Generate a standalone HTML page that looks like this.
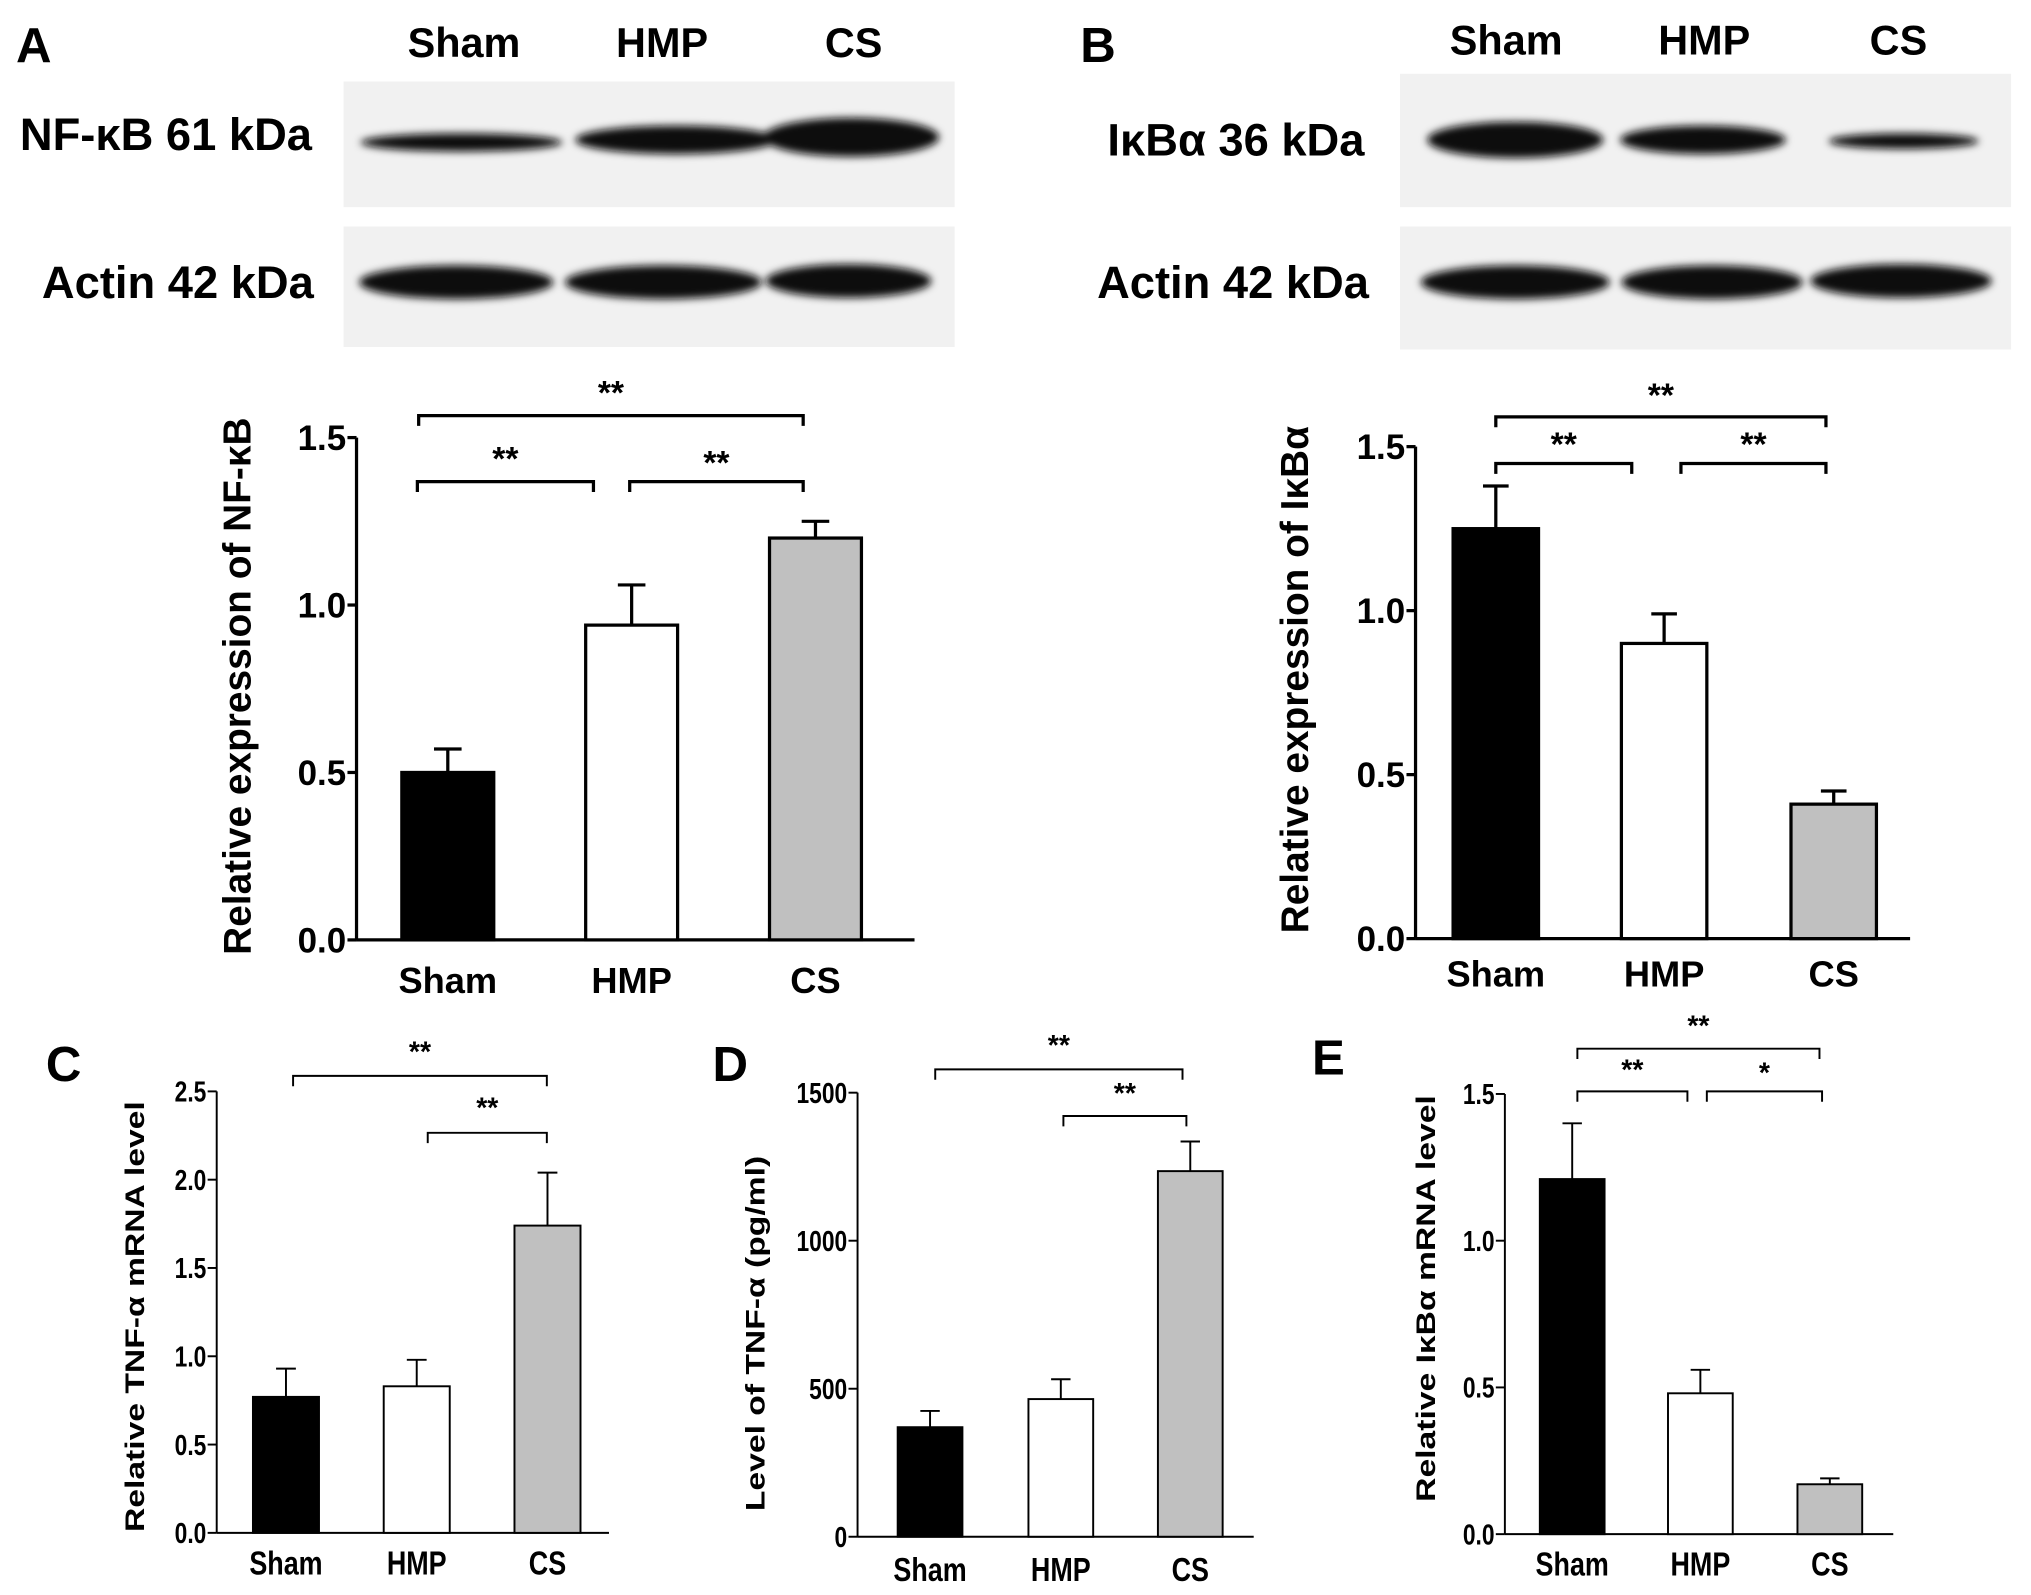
<!DOCTYPE html>
<html><head><meta charset="utf-8"><style>
html,body{margin:0;padding:0;background:#fff;}
svg{display:block;font-family:"Liberation Sans",Arial,sans-serif;}
text{font-weight:bold;fill:#000;}
</style></head><body>
<svg id="fig" width="2031" height="1595" viewBox="0 0 1568 1232" xmlns="http://www.w3.org/2000/svg">
<defs>
<filter id="blur" x="-20%" y="-100%" width="140%" height="300%"><feGaussianBlur stdDeviation="3"/></filter>
</defs>
<!-- Blots A -->
<g>
<text x="12" y="48" font-size="38">A</text>
<text x="358" y="44" font-size="32" text-anchor="middle">Sham</text>
<text x="511" y="44" font-size="32" text-anchor="middle">HMP</text>
<text x="659" y="44" font-size="32" text-anchor="middle">CS</text>
<text x="15" y="116" font-size="35">NF-κB 61 kDa</text>
<text x="32" y="230" font-size="35">Actin 42 kDa</text>
<rect x="265" y="63" width="472" height="97" fill="#f1f1f1"/>
<rect x="265" y="175" width="472" height="93" fill="#f1f1f1"/>
<g filter="url(#blur)" fill="#111">
<ellipse cx="356" cy="110" rx="78" ry="7"/>
<ellipse cx="522" cy="108" rx="78" ry="11"/>
<ellipse cx="657" cy="106" rx="68" ry="15"/>
<ellipse cx="352" cy="218" rx="75" ry="13"/>
<ellipse cx="512" cy="218" rx="76" ry="13"/>
<ellipse cx="655" cy="217" rx="64" ry="13"/>
</g>
</g>
<!-- Blots B -->
<g>
<text x="834" y="48" font-size="38">B</text>
<text x="1163" y="42" font-size="32" text-anchor="middle">Sham</text>
<text x="1316" y="42" font-size="32" text-anchor="middle">HMP</text>
<text x="1466" y="42" font-size="32" text-anchor="middle">CS</text>
<text x="855" y="120" font-size="35">IκBα 36 kDa</text>
<text x="847" y="230" font-size="35">Actin 42 kDa</text>
<rect x="1081" y="57" width="472" height="103" fill="#f1f1f1"/>
<rect x="1081" y="175" width="472" height="95" fill="#f1f1f1"/>
<g filter="url(#blur)" fill="#111">
<ellipse cx="1170" cy="108" rx="68" ry="14"/>
<ellipse cx="1315" cy="108" rx="64" ry="11"/>
<ellipse cx="1470" cy="109" rx="58" ry="6"/>
<ellipse cx="1170" cy="218" rx="73" ry="13"/>
<ellipse cx="1322" cy="218" rx="70" ry="13"/>
<ellipse cx="1468" cy="217" rx="70" ry="13"/>
</g>
</g>
<g id="charts"></g>
</svg>
<script>
// Chart data
const categories = ["Sham", "HMP", "CS"];
const fills = ["#000000", "#ffffff", "#c0c0c0"];
const aValues = [0.50, 0.94, 1.20];
const aErrors = [0.07, 0.12, 0.05];
const aTicks = ["0.0", "0.5", "1.0", "1.5"];
const bValues = [1.25, 0.90, 0.41];
const bErrors = [0.13, 0.09, 0.04];
const bTicks = ["0.0", "0.5", "1.0", "1.5"];
const cValues = [0.77, 0.83, 1.74];
const cErrors = [0.16, 0.15, 0.30];
const cTicks = ["0.0", "0.5", "1.0", "1.5", "2.0", "2.5"];
const dValues = [370, 465, 1235];
const dErrors = [55, 67, 100];
const dTicks = ["0", "500", "1000", "1500"];
const eValues = [1.21, 0.48, 0.17];
const eErrors = [0.19, 0.08, 0.02];
const eTicks = ["0.0", "0.5", "1.0", "1.5"];

const NS = "http://www.w3.org/2000/svg";
const root = document.getElementById("charts");
function mk(tag, attrs, parent) {
  const el = document.createElementNS(NS, tag);
  for (const k in attrs) el.setAttribute(k, attrs[k]);
  (parent || root).appendChild(el);
  return el;
}

const panels = [
  {id:"a", values:aValues, errors:aErrors, ticks:aTicks, max:1.5, ax:275, y0:726, yTop:338, xEnd:706,
   barL:[310,452,594], barW:71, lw:2.5, tickFs:27, catFs:28, catY:767, label:"Relative expression of NF-κB",
   labX:193, labY:530, labFs:30, letter:null,
   brackets:[[323,620,321,"**",312],[322,458,372,"**",363],[486,620,372,"**",366]], starFs:26, cond:1},
  {id:"b", values:bValues, errors:bErrors, ticks:bTicks, max:1.5, ax:1093, y0:725, yTop:345, xEnd:1475,
   barL:[1122,1252,1383], barW:66, lw:2.5, tickFs:27, catFs:28, catY:762, label:"Relative expression of IκBα",
   labX:1010, labY:525, labFs:30, letter:null,
   brackets:[[1155,1410,322,"**",314],[1155,1260,358,"**",352],[1298,1410,358,"**",352]], starFs:26, cond:1},
  {id:"c", values:cValues, errors:cErrors, ticks:cTicks, max:2.5, ax:167, y0:1184, yTop:843, xEnd:470,
   barL:[195,296,397], barW:51, lw:1.5, tickFs:22, catFs:26, catY:1216, label:"Relative TNF-α mRNA level",
   labX:111, labY:1017, labFs:26, letter:["C",35,835],
   brackets:[[226,422,831,"**",820],[330,422,875,"**",863]], starFs:22, cond:0.8},
  {id:"d", values:dValues, errors:dErrors, ticks:dTicks, max:1500, ax:662, y0:1187, yTop:844, xEnd:968,
   barL:[693,794,894], barW:50, lw:1.5, tickFs:22, catFs:26, catY:1221, label:"Level of TNF-α (pg/ml)",
   labX:590, labY:1030, labFs:26, letter:["D",550,835],
   brackets:[[722,913,826,"**",815],[821,916,862,"**",852]], starFs:22, cond:0.8},
  {id:"e", values:eValues, errors:eErrors, ticks:eTicks, max:1.5, ax:1162, y0:1185, yTop:845, xEnd:1462,
   barL:[1189,1288,1388], barW:50, lw:1.5, tickFs:22, catFs:26, catY:1217, label:"Relative IκBα mRNA level",
   labX:1108, labY:1003, labFs:26, letter:["E",1013,830],
   brackets:[[1218,1405,810,"**",800],[1218,1303,843,"**",834],[1318,1407,843,"*",836]], starFs:22, cond:0.8}
];

panels.forEach(p => {
  const g = mk("g", {});
  
  
  const y = v => p.y0 - (v / p.max) * (p.y0 - p.yTop);
  if (p.letter) {
    const t = mk("text", {x:p.letter[1], y:p.letter[2], "font-size":38}, g);
    t.textContent = p.letter[0];
    
    
  }
  const yAxis = mk("line", {x1:p.ax, y1:p.y0, x2:p.ax, y2:p.yTop, stroke:"#000", "stroke-width":p.lw}, g);
  
  
  const xAxis = mk("line", {x1:p.ax, y1:p.y0, x2:p.xEnd, y2:p.y0, stroke:"#000", "stroke-width":p.lw}, g);
  
  
  p.ticks.forEach(tk => {
    const v = parseFloat(tk);
    const ty = y(v);
    mk("line", {x1:p.ax - 7, y1:ty, x2:p.ax, y2:ty, stroke:"#000", "stroke-width":p.lw}, g);
    const t = mk("text", {x:p.ax - 8, y:ty + p.tickFs * 0.36, "font-size":p.tickFs, "text-anchor":"end",
      transform:`translate(${(p.ax-8)*(1-p.cond)} 0) scale(${p.cond} 1)`}, g);
    t.textContent = tk;
    
    
  });
  const yl = mk("text", {x:0, y:0, "font-size":p.labFs, "text-anchor":"middle",
    transform:`translate(${p.labX} ${p.labY}) rotate(-90) scale(1 ${p.cond})`}, g);
  yl.textContent = p.label;
  
  
  p.values.forEach((v, i) => {
    const x = p.barL[i], w = p.barW, top = y(v), cx = x + w / 2;
    const et = y(v + p.errors[i]);
    const el = mk("line", {x1:cx, y1:top, x2:cx, y2:et, stroke:"#000", "stroke-width":p.lw}, g);
    
    
    mk("line", {x1:cx - w * 0.15, y1:et, x2:cx + w * 0.15, y2:et, stroke:"#000", "stroke-width":p.lw}, g);
    const r = mk("rect", {x:x, y:top, width:w, height:p.y0 - top, fill:fills[i], stroke:"#000", "stroke-width":p.lw}, g);
    
    
    const ct = mk("text", {x:0, y:0, "font-size":p.catFs, "text-anchor":"middle",
      transform:`translate(${cx} ${p.catY}) scale(${p.cond} 1)`}, g);
    ct.textContent = categories[i];
    
    
  });
  p.brackets.forEach(b => {
    const pth = mk("path", {d:`M${b[0]} ${b[2]+8} V${b[2]} H${b[1]} V${b[2]+8}`, fill:"none", stroke:"#000", "stroke-width":p.lw}, g);
    
    
    const s = mk("text", {x:(b[0] + b[1]) / 2, y:b[4], "font-size":p.starFs, "text-anchor":"middle"}, g);
    s.textContent = b[3];
    
    
  });
});
</script>
</body></html>
